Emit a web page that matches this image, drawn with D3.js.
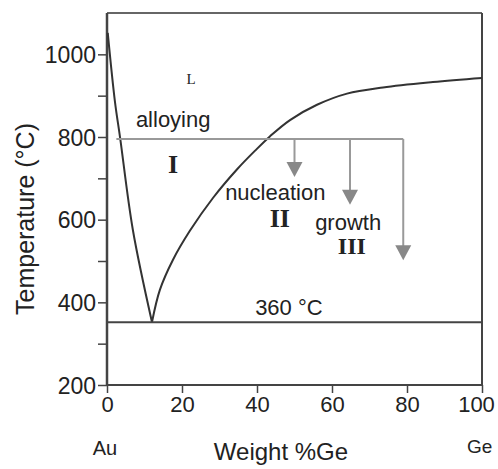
<!DOCTYPE html>
<html lang="en">
<head>
<meta charset="UTF-8">
<title>Au-Ge phase diagram</title>
<script src="https://d3js.org/d3.v7.min.js"></script>
<style>
html, body { margin: 0; padding: 0; background: #fff; }
svg { display: block; }
text { font-family: 'Liberation Sans', Arial, sans-serif; fill: #222; }
.roman { font-family: 'Liberation Serif', 'Times New Roman', serif; font-weight: bold; }
.axis path, .axis line { stroke: #444; }
</style>
</head>
<body>
<svg id="canvas"></svg>
<script>
// liquidus on the Au side (wt% Ge, deg C)
let auSideX = [0.2, 2.1, 3.5, 6.9, 12.0]
let auSideT = [1052, 887, 798, 575, 352]

// liquidus on the Ge side
let geSideX = [12.0, 14.1, 17.6, 22.1, 28.3, 34.7, 39.5, 43.5, 48.8, 56, 64, 73.6, 86.9, 100]
let geSideT = [352, 430, 503, 573, 653, 722, 767, 802, 841, 878, 905, 920, 933, 943]

let eutecticT = 352
let alloyT = 795
let alloyStartX = 2.5
let arrowX = [50, 64.8, 79]
let arrowEndT = [703, 636, 502]

let xTicks = [0, 20, 40, 60, 80, 100]
let yTicks = [200, 300, 400, 500, 600, 700, 800, 900, 1000]
let yLabelTicks = [200, 400, 600, 800, 1000]

let notes = [
    { text: 'L', x: 22.4, t: 928, cls: 'roman', size: 15, anchor: 'middle' },
    { text: 'alloying', x: 7.7, t: 824, cls: '', size: 22, anchor: 'start' },
    { text: 'I', x: 17.6, t: 713, cls: 'roman', size: 26, anchor: 'middle' },
    { text: 'nucleation', x: 31.5, t: 648, cls: '', size: 22, anchor: 'start' },
    { text: 'II', x: 46.1, t: 582, cls: 'roman', size: 26, anchor: 'middle' },
    { text: 'growth', x: 55.5, t: 574, cls: '', size: 22, anchor: 'start' },
    { text: 'III', x: 65.3, t: 517, cls: 'roman', size: 24, anchor: 'middle' },
    { text: '360 °C', x: 39.5, t: 369, cls: '', size: 22, anchor: 'start' }
]

let width = 498
let height = 469
let plotLeft = 107
let plotRight = 482
let plotTop = 13
let plotBottom = 385

let svg = d3.select('svg').attr('width', width).attr('height', height)

let xScale = d3.scaleLinear().domain([0, 100]).range([plotLeft, plotRight])
let yScale = d3.scaleLinear().domain([200, 1100]).range([plotBottom, plotTop])

// frame
svg.append('line')
    .attr('x1', plotLeft).attr('x2', plotRight)
    .attr('y1', plotTop).attr('y2', plotTop)
    .attr('stroke', '#666').attr('stroke-width', 2)
svg.append('line')
    .attr('x1', plotRight).attr('x2', plotRight)
    .attr('y1', plotTop).attr('y2', plotBottom)
    .attr('stroke', '#444').attr('stroke-width', 2)

// axes
let xAxis = d3.axisBottom(xScale).tickValues(xTicks).tickSize(8).tickPadding(3)
let yAxis = d3.axisLeft(yScale).tickValues(yTicks).tickSize(9).tickPadding(2)
    .tickFormat(d => yLabelTicks.includes(d) ? d : '')

let gx = svg.append('g').attr('class', 'axis')
    .attr('transform', 'translate(0,' + plotBottom + ')')
    .call(xAxis)
gx.select('.domain').attr('stroke-width', 2).attr('d', 'M' + plotLeft + ',0H' + plotRight)
gx.selectAll('text').style('font-size', '22px').attr('fill', '#222')
    .attr('dx', d => d === 100 ? -6 : 0)
gx.selectAll('line').attr('stroke', '#777').attr('stroke-width', 1.5)

let gy = svg.append('g').attr('class', 'axis')
    .attr('transform', 'translate(' + plotLeft + ',0)')
    .call(yAxis)
gy.select('.domain').attr('stroke-width', 2.5).attr('d', 'M0,' + plotTop + 'V' + plotBottom)
gy.selectAll('text').style('font-size', '23px').attr('fill', '#222').attr('dy', '0.36em')
gy.selectAll('line').attr('stroke', '#555').attr('stroke-width', 1.5)

// phase boundaries
let line = d3.line()
    .x(d => xScale(d[0]))
    .y(d => yScale(d[1]))
    .curve(d3.curveCatmullRom.alpha(0.5))

svg.append('path')
    .datum(auSideX.map((x, i) => [x, auSideT[i]]))
    .attr('d', line)
    .attr('fill', 'none').attr('stroke', '#333').attr('stroke-width', 2)

svg.append('path')
    .datum(geSideX.map((x, i) => [x, geSideT[i]]))
    .attr('d', line)
    .attr('fill', 'none').attr('stroke', '#333').attr('stroke-width', 2)

svg.append('line')
    .attr('x1', xScale(0)).attr('x2', xScale(100))
    .attr('y1', yScale(eutecticT)).attr('y2', yScale(eutecticT))
    .attr('stroke', '#444').attr('stroke-width', 2)

// process path with arrows
svg.append('line')
    .attr('x1', xScale(alloyStartX)).attr('x2', xScale(arrowX[arrowX.length - 1]))
    .attr('y1', yScale(alloyT)).attr('y2', yScale(alloyT))
    .attr('stroke', '#999').attr('stroke-width', 2)

arrowX.forEach((x, i) => {
    let px = xScale(x)
    let tip = yScale(arrowEndT[i])
    svg.append('line')
        .attr('x1', px).attr('x2', px)
        .attr('y1', yScale(alloyT)).attr('y2', tip - 12)
        .attr('stroke', '#999').attr('stroke-width', 2)
    svg.append('path')
        .attr('d', 'M' + (px - 8) + ',' + (tip - 15) + 'L' + (px + 8) + ',' + (tip - 15) + 'L' + px + ',' + tip + 'Z')
        .attr('fill', '#888')
})

// annotations
notes.forEach(n => {
    svg.append('text')
        .attr('class', n.cls)
        .attr('x', xScale(n.x))
        .attr('y', yScale(n.t))
        .attr('text-anchor', n.anchor)
        .style('font-size', n.size + 'px')
        .style('font-weight', n.text === 'L' ? 'normal' : null)
        .text(n.text)
})

// axis titles
svg.append('text')
    .attr('transform', 'translate(34,219) rotate(-90)')
    .attr('text-anchor', 'middle')
    .style('font-size', '25px')
    .text('Temperature (°C)')

svg.append('text')
    .attr('x', 105).attr('y', 455)
    .attr('text-anchor', 'middle')
    .style('font-size', '20px')
    .text('Au')

svg.append('text')
    .attr('x', 281).attr('y', 460)
    .attr('text-anchor', 'middle')
    .style('font-size', '24px')
    .text('Weight %Ge')

svg.append('text')
    .attr('x', 467).attr('y', 453)
    .style('font-size', '19px')
    .text('Ge')
</script>
</body>
</html>
